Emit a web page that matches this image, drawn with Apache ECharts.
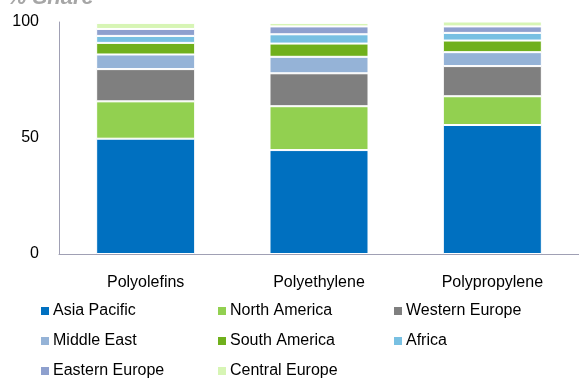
<!DOCTYPE html>
<html><head><meta charset="utf-8">
<script src="https://cdn.jsdelivr.net/npm/echarts@6/dist/echarts.min.js"></script>
<style>html,body{margin:0;padding:0;background:#fff}#c{width:579px;height:381px}</style>
</head><body><div id="c"></div>
<script>
const categories = ['Polyolefins', 'Polyethylene', 'Polypropylene'];
const asiaPacific = [49.7, 44.8, 55.6];
const northAmerica = [16.1, 18.9, 12.4];
const westernEurope = [13.9, 14.2, 13.0];
const middleEast = [6.3, 7.1, 6.0];
const southAmerica = [5.0, 5.7, 5.0];
const africa = [3.0, 4.0, 3.3];
const easternEurope = [3.0, 3.4, 2.8];
const centralEurope = [2.6, 1.5, 2.3];
const yTicks = [0, 50, 100];

const seriesDefs = [
  ['Asia Pacific', asiaPacific, '#0070C0'],
  ['North America', northAmerica, '#92D050'],
  ['Western Europe', westernEurope, '#7F7F7F'],
  ['Middle East', middleEast, '#95B3D7'],
  ['South America', southAmerica, '#70B01C'],
  ['Africa', africa, '#78C0E2'],
  ['Eastern Europe', easternEurope, '#8EA0CE'],
  ['Central Europe', centralEurope, '#D7F5B5']
];
const font = 'Liberation Sans, Arial, sans-serif';
const chart = echarts.init(document.getElementById('c'));
function legendCol(names, left) {
  return {
    orient: 'vertical', left: left, top: 298, height: 100, itemWidth: 10, itemHeight: 10, itemGap: 14,
    icon: 'rect', data: names,
    textStyle: { fontFamily: font, fontSize: 16, color: '#000', padding: [0, 0, 0, -2] }
  };
}
chart.setOption({
  animation: false,
  title: { text: '% Share', left: 2, top: -18,
    textStyle: { fontFamily: font, fontSize: 22, fontStyle: 'italic', fontWeight: 'bold', color: '#A6A6A6' } },
  grid: { left: 59, top: 22, width: 525, height: 232 },
  legend: [
    legendCol(['Asia Pacific', 'Middle East', 'Eastern Europe'], 34),
    legendCol(['North America', 'South America', 'Central Europe'], 211),
    legendCol(['Western Europe', 'Africa'], 387)
  ],
  xAxis: {
    type: 'category', data: categories,
    axisLine: { lineStyle: { color: '#A0A0B4', width: 1 } },
    axisTick: { show: false },
    axisLabel: { fontFamily: font, fontSize: 16, color: '#000', margin: 21 }
  },
  yAxis: {
    type: 'value', min: yTicks[0], max: yTicks[2], interval: 50,
    axisLine: { show: true, lineStyle: { color: '#A0A0B4', width: 1 } },
    axisTick: { show: false },
    splitLine: { show: false },
    axisLabel: { fontFamily: font, fontSize: 16, color: '#000', margin: 20 }
  },
  series: seriesDefs.map(([name, data, color]) => ({
    name, type: 'bar', stack: 'total', data, barWidth: 99,
    itemStyle: { color, borderColor: '#fff', borderWidth: 1 }
  }))
});
</script></body></html>
